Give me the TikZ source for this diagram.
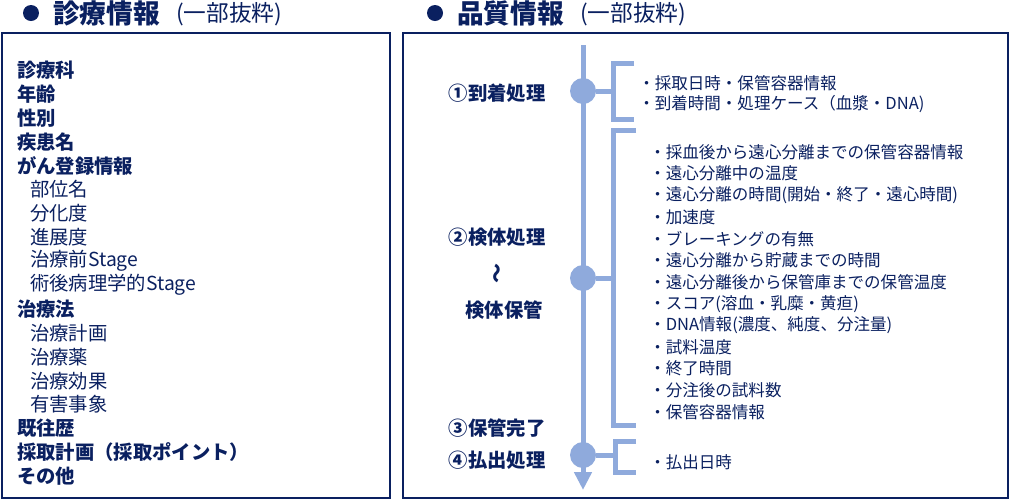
\documentclass[tikz,border=0pt]{standalone}
\usepackage{fontspec}
\setmainfont{Noto Sans CJK JP}
\usetikzlibrary{arrows.meta}
\definecolor{navy}{HTML}{0A2060}
\definecolor{tl}{HTML}{8FAADC}

\begin{document}
\begin{tikzpicture}[x=0.75pt, y=-0.75pt,
    panel/.style={draw=navy, line width=1.5pt},
    bul/.style={circle, fill=navy, inner sep=0, minimum size=12pt},
    title/.style={anchor=west, inner sep=0, text=navy, font=\bfseries\fontsize{20}{24}\selectfont},
    part/.style={anchor=west, inner sep=0, text=navy, font=\fontsize{17}{20}\selectfont},
    hd/.style={anchor=west, inner sep=0, text=navy, font=\bfseries\fontsize{14.5}{17}\selectfont},
    ind/.style={anchor=west, inner sep=0, text=navy, font=\fontsize{14.5}{17}\selectfont, xshift=9.75pt},
    stage/.style={inner sep=0, text=navy, font=\bfseries\fontsize{14.5}{17}\selectfont},
    item/.style={anchor=west, inner sep=0, text=navy, font=\fontsize{12.4}{14}\selectfont},
    tline/.style={draw=tl, line width=3.75pt},
    dot/.style={circle, fill=tl, inner sep=0, minimum size=19.5pt}
  ]
    \useasboundingbox (0,0) rectangle (1011,501);

    % headings
    \node[bul] (b1) at (31,13) {};
    \node[title] (h1) at (53,13) {診療情報};
    \node[part] (p1) at (176,14) {(一部抜粋)};
    \node[bul] (b2) at (435,13) {};
    \node[title] (h2) at (457,13) {品質情報};
    \node[part] (p2) at (580,14) {(一部抜粋)};

    % panels
    \draw[panel] (2,33) rectangle (390,498);
    \draw[panel] (403,33) rectangle (1008,498);

    % clinical data
    \foreach \txt/\sty [count=\i from 0] in {診療科/hd, 年齢/hd, 性別/hd, 疾患名/hd,
        がん登録情報/hd, 部位名/ind, 分化度/ind, 進展度/ind, 治療前Stage/ind,
        術後病理学的Stage/ind, 治療法/hd, 治療計画/ind, 治療薬/ind, 治療効果/ind,
        有害事象/ind, 既往歴/hd, 採取計画（採取ポイント）/hd, その他/hd}
      \node[\sty] (c\i) at (17,{70+23.9*\i}) {\txt};

    % timeline
    \draw[tline, -{Triangle[width=12.75pt, length=13.5pt]}] (583,45) -- (583,490);
    \node[dot] (s1) at (583,91) {};
    \node[dot] (s2) at (583,278) {};
    \node[dot] (s4) at (583,455) {};

    % brackets
    \coordinate (k1) at (613,91);
    \coordinate (k2) at (613,278);
    \coordinate (k4) at (615,455);
    \draw[tline] (s1) -- (k1);
    \draw[tline] (s2) -- (k2);
    \draw[tline] (s4) -- (k4);
    \draw[tline] (634,63) -| (k1) |- (634,119);
    \draw[tline] (636,130) -| (k2) |- (636,425);
    \draw[tline] (636,441) -| (k4) |- (636,472);

    % stages
    \node[stage] (t1) at (497,93) {①到着処理};
    \node[stage] (t2) at (497,237) {②検体処理};
    \node[stage, rotate=90, font=\bfseries\fontsize{15}{16}\selectfont] (w) at (499,273) {〜};
    \node[stage] (t2b) at (504,310) {検体保管};
    \node[stage] (t3) at (497,428) {③保管完了};
    \node[stage] (t4) at (497,460) {④払出処理};

    % quality data
    \node[item] (q1) at (638,83) {・採取日時・保管容器情報};
    \node[item] (q2) at (638,104) {・到着時間・処理ケース（血漿・DNA)};
    \foreach \txt [count=\i from 0] in {・採血後から遠心分離までの保管容器情報,
        ・遠心分離中の温度, ・遠心分離の時間(開始・終了・遠心時間), ・加速度,
        ・ブレーキングの有無, ・遠心分離から貯蔵までの時間,
        ・遠心分離後から保管庫までの保管温度, ・スコア(溶血・乳糜・黄疸),
        ・DNA情報(濃度、純度、分注量), ・試料温度, ・終了時間,
        ・分注後の試料数, ・保管容器情報}
      \node[item] (r\i) at (649,{152+21.67*\i}) {\txt};
    \node[item] (u1) at (649,462) {・払出日時};
\end{tikzpicture}
\end{document}
